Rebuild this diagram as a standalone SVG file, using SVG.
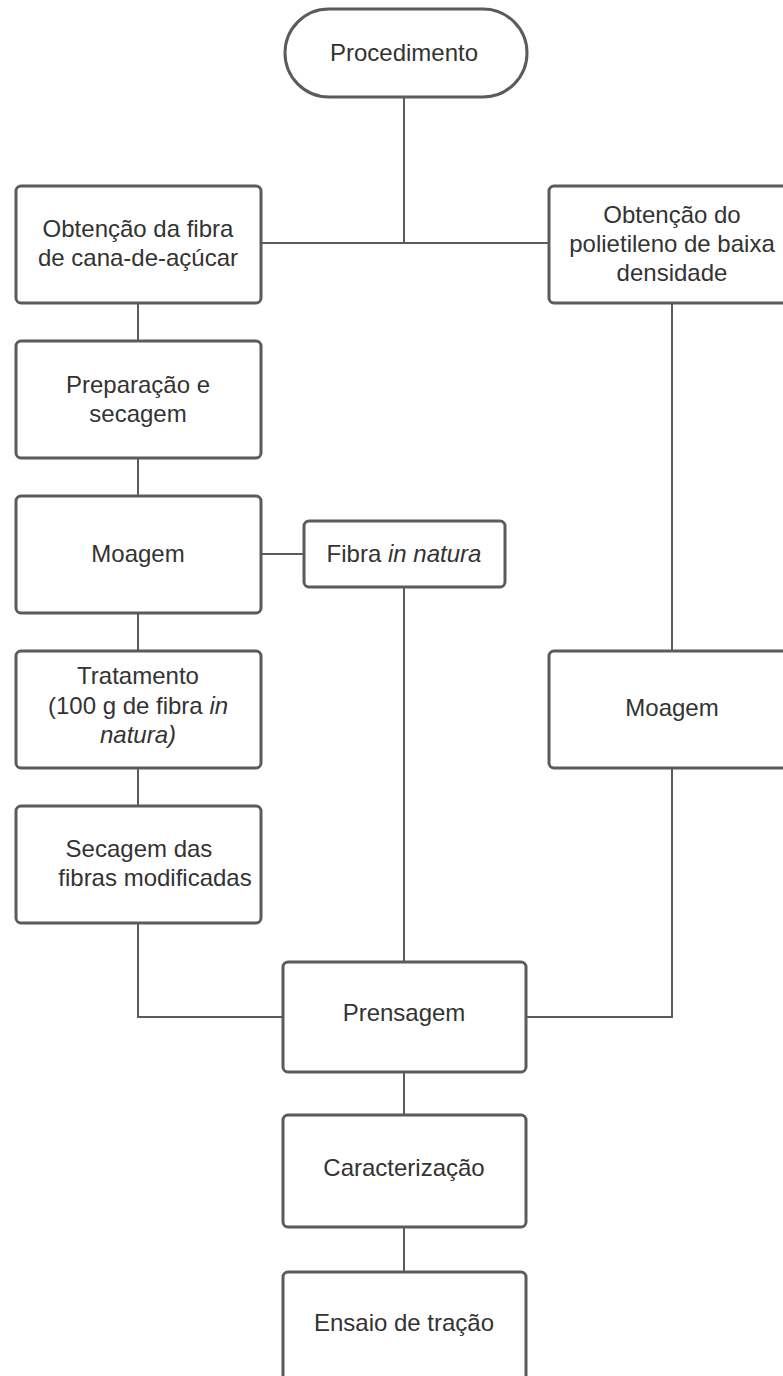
<svg xmlns="http://www.w3.org/2000/svg" width="783" height="1376" viewBox="0 0 783 1376">
<style>
.box{fill:#fff;stroke:#5b5b5b;stroke-width:3}
.ln{fill:none;stroke:#5b5b5b;stroke-width:2}
text{font-family:"Liberation Sans",Arial,sans-serif;font-size:24px;fill:#333;text-anchor:middle}
.it{font-style:italic}
</style>
<rect width="783" height="1376" fill="#fff"/>
<g id="connectors">
<path class="ln" d="M404 97V243M261 243H549"/>
<path class="ln" d="M138 303V341M138 458V496M138 613V651M138 768V806"/>
<path class="ln" d="M261 554H304"/>
<path class="ln" d="M404 587V962"/>
<path class="ln" d="M672 303V651"/>
<path class="ln" d="M138 923V1017H283"/>
<path class="ln" d="M672 768V1017H526"/>
<path class="ln" d="M404 1072V1115M404 1227V1272"/>
</g>
<g id="procedimento"><rect class="box" x="285" y="9" width="242" height="88" rx="44"/><text x="404" y="61">Procedimento</text></g>
<g id="fibra-cana"><rect class="box" x="16" y="186" width="245" height="117" rx="5"/><text x="138" y="237">Obtenção da fibra</text><text x="138" y="266">de cana-de-açúcar</text></g>
<g id="polietileno"><rect class="box" x="549" y="186" width="245" height="117" rx="5"/><text x="672" y="223">Obtenção do</text><text x="672" y="252">polietileno de baixa</text><text x="672" y="281">densidade</text></g>
<g id="preparacao"><rect class="box" x="16" y="341" width="245" height="117" rx="5"/><text x="138" y="393">Preparação e</text><text x="138" y="422">secagem</text></g>
<g id="moagem1"><rect class="box" x="16" y="496" width="245" height="117" rx="5"/><text x="138" y="562">Moagem</text></g>
<g id="fibra-in-natura"><rect class="box" x="304" y="521" width="201" height="66" rx="5"/><text x="404" y="562">Fibra <tspan class="it">in natura</tspan></text></g>
<g id="tratamento"><rect class="box" x="16" y="651" width="245" height="117" rx="5"/><text x="138" y="684">Tratamento</text><text x="138" y="714">(100 g de fibra <tspan class="it">in</tspan></text><text x="138" y="743" class="it">natura)</text></g>
<g id="secagem"><rect class="box" x="16" y="806" width="245" height="117" rx="5"/><text x="139" y="857">Secagem das</text><text x="155" y="886">fibras modificadas</text></g>
<g id="moagem2"><rect class="box" x="549" y="651" width="245" height="117" rx="5"/><text x="672" y="716">Moagem</text></g>
<g id="prensagem"><rect class="box" x="283" y="962" width="243" height="110" rx="5"/><text x="404" y="1021">Prensagem</text></g>
<g id="caracterizacao"><rect class="box" x="283" y="1115" width="243" height="112" rx="5"/><text x="404" y="1176">Caracterização</text></g>
<g id="ensaio"><rect class="box" x="283" y="1272" width="243" height="117" rx="5"/><text x="404" y="1331">Ensaio de tração</text></g>
</svg>
